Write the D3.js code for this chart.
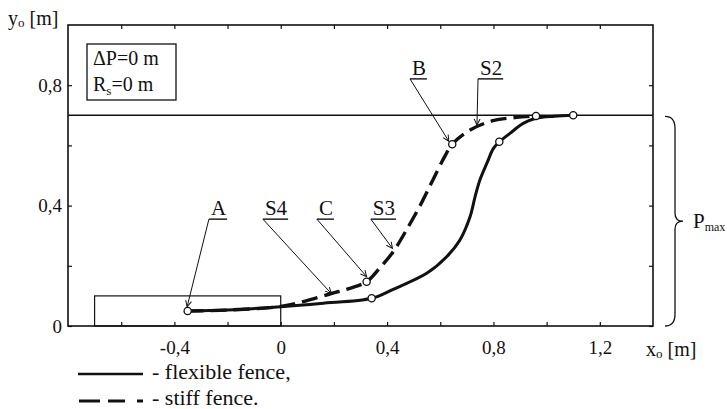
<!DOCTYPE html>
<html>
<head>
<meta charset="utf-8">
<title>Fence profiles</title>
<script src="https://cdn.jsdelivr.net/npm/d3@7"></script>
<style>
  body { margin: 0; background: #fff; }
  svg text { font-family: "Liberation Serif", "Times New Roman", Times, "DejaVu Serif", "Noto Serif", serif; fill: #111; }
</style>
</head>
<body>
<script>
  // data
  const flexX = [-0.35, -0.2, 0, 0.15, 0.342, 0.423, 0.549, 0.624, 0.674, 0.712, 0.731, 0.749, 0.775, 0.8, 0.822, 0.862, 0.912, 0.96, 1.03, 1.1];
  const flexY = [0.05, 0.053, 0.064, 0.075, 0.092, 0.122, 0.175, 0.23, 0.286, 0.363, 0.43, 0.485, 0.54, 0.59, 0.612, 0.64, 0.673, 0.69, 0.697, 0.7];
  const stiffX = [-0.35, -0.2, 0, 0.085, 0.19, 0.26, 0.323, 0.37, 0.423, 0.48, 0.53, 0.575, 0.618, 0.645, 0.712, 0.798, 0.887, 0.96];
  const stiffY = [0.05, 0.053, 0.065, 0.081, 0.108, 0.125, 0.147, 0.19, 0.247, 0.33, 0.41, 0.49, 0.565, 0.604, 0.651, 0.682, 0.693, 0.698];
  const markX = [-0.35, 0.342, 0.323, 0.645, 0.822, 0.96, 1.1];
  const markY = [0.05, 0.092, 0.147, 0.604, 0.612, 0.698, 0.7];
  const pMax = 0.7;
  const zoneX = [-0.7, 0];
  const zoneY = [0, 0.1];

  const xTicks = [-0.6, -0.4, -0.2, 0, 0.2, 0.4, 0.6, 0.8, 1, 1.2];
  const xLabels = [-0.4, 0, 0.4, 0.8, 1.2];
  const yTicks = [0, 0.2, 0.4, 0.6, 0.8];
  const yLabels = [0, 0.4, 0.8];

  // annotation labels: text, label x, label y, target x, target y
  const notes = [
    ['A', -0.27, 0.355, -0.352, 0.064],
    ['S4', -0.067, 0.355, 0.19, 0.108],
    ['C', 0.136, 0.355, 0.323, 0.164],
    ['S3', 0.339, 0.355, 0.42, 0.258],
    ['B', 0.486, 0.821, 0.632, 0.614],
    ['S2', 0.742, 0.821, 0.738, 0.668]
  ];

  const width = 727, height = 409;
  const mLeft = 68, mTop = 25, pw = 585, ph = 301;
  const serif = '"Liberation Serif", "Times New Roman", Times, "DejaVu Serif", serif';

  const svg = d3.select('body').append('svg')
    .attr('width', width)
    .attr('height', height)
    .attr('font-family', serif);

  const x = d3.scaleLinear().domain([-0.8, 1.4]).range([mLeft, mLeft + pw]);
  const y = d3.scaleLinear().domain([0, 1]).range([mTop + ph, mTop]);

  function fmt(d) {
    return d === 0 ? '0' : String(d).replace('.', ',');
  }

  svg.append('defs').append('marker')
    .attr('id', 'arr')
    .attr('markerUnits', 'userSpaceOnUse')
    .attr('viewBox', '-8 -5 10 10')
    .attr('markerWidth', 10).attr('markerHeight', 10)
    .attr('refX', 0).attr('refY', 0)
    .attr('orient', 'auto')
    .append('path')
    .attr('d', 'M-6,-3L0,0L-6,3')
    .attr('fill', 'none').attr('stroke', '#111').attr('stroke-width', 1);

  // axes (inner ticks)
  svg.append('g').attr('transform', `translate(0,${mTop + ph})`)
    .call(d3.axisBottom(x).tickValues(xTicks).tickSize(-4).tickPadding(15)
      .tickFormat(d => xLabels.includes(d) ? fmt(d) : ''));
  svg.append('g').attr('transform', `translate(0,${mTop})`)
    .call(d3.axisTop(x).tickValues(xTicks).tickSize(-4).tickFormat(''));
  svg.append('g').attr('transform', `translate(${mLeft},0)`)
    .call(d3.axisLeft(y).tickValues(yTicks).tickSize(-4).tickPadding(6)
      .tickFormat(d => yLabels.includes(d) ? fmt(d) : ''));
  svg.append('g').attr('transform', `translate(${mLeft + pw},0)`)
    .call(d3.axisRight(y).tickValues(yTicks).tickSize(-4).tickFormat(''));
  svg.selectAll('.domain').remove();
  svg.selectAll('g[font-family]').attr('font-family', serif).attr('font-size', 19);
  svg.selectAll('.tick line').attr('stroke', '#111').attr('stroke-width', 1.2);
  svg.selectAll('.tick text').attr('fill', '#111');

  // frame
  svg.append('rect')
    .attr('x', x(-0.8)).attr('y', y(1))
    .attr('width', x(1.4) - x(-0.8)).attr('height', y(0) - y(1))
    .attr('fill', 'none').attr('stroke', '#111').attr('stroke-width', 1.6);

  // Pmax line
  svg.append('line')
    .attr('x1', x(-0.8)).attr('x2', x(1.4))
    .attr('y1', y(pMax)).attr('y2', y(pMax))
    .attr('stroke', '#111').attr('stroke-width', 1.5);

  // zone rectangle
  svg.append('rect')
    .attr('x', x(zoneX[0])).attr('y', y(zoneY[1]))
    .attr('width', x(zoneX[1]) - x(zoneX[0])).attr('height', y(zoneY[0]) - y(zoneY[1]))
    .attr('fill', 'none').attr('stroke', '#111').attr('stroke-width', 1.2);

  // curves
  const line = d3.line().x(d => x(d[0])).y(d => y(d[1])).curve(d3.curveCatmullRom.alpha(0.5));
  svg.append('path')
    .datum(d3.zip(flexX, flexY))
    .attr('d', line)
    .attr('fill', 'none').attr('stroke', '#111').attr('stroke-width', 3);
  svg.append('path')
    .datum(d3.zip(stiffX, stiffY))
    .attr('d', line)
    .attr('fill', 'none').attr('stroke', '#111').attr('stroke-width', 3.4)
    .attr('stroke-dasharray', '16,7');

  // leaders and labels
  notes.forEach(n => {
    let t = svg.append('text')
      .attr('x', x(n[1]) + 2).attr('y', y(n[2]) - 4)
      .attr('font-size', 21)
      .text(n[0]);
    let w = t.node().getComputedTextLength();
    svg.append('line')
      .attr('x1', x(n[1])).attr('x2', x(n[1]) + w + 3)
      .attr('y1', y(n[2])).attr('y2', y(n[2]))
      .attr('stroke', '#111').attr('stroke-width', 1.4);
    svg.append('line')
      .attr('x1', x(n[1])).attr('y1', y(n[2]))
      .attr('x2', x(n[3])).attr('y2', y(n[4]))
      .attr('stroke', '#111').attr('stroke-width', 1)
      .attr('marker-end', 'url(#arr)');
  });

  // markers
  svg.selectAll('circle.m')
    .data(d3.zip(markX, markY))
    .enter().append('circle')
    .attr('cx', d => x(d[0])).attr('cy', d => y(d[1]))
    .attr('r', 3.6)
    .attr('fill', '#fff').attr('stroke', '#111').attr('stroke-width', 1.3);

  // info box
  svg.append('rect')
    .attr('x', 87).attr('y', 44).attr('width', 89).attr('height', 56)
    .attr('fill', '#fff').attr('stroke', '#111').attr('stroke-width', 1.3);
  svg.append('text').attr('x', 93).attr('y', 65).attr('font-size', 20).text('ΔP=0 m');
  let rs = svg.append('text').attr('x', 93).attr('y', 91).attr('font-size', 20);
  rs.append('tspan').text('R');
  rs.append('tspan').attr('dy', 4).attr('font-size', 13).text('s');
  rs.append('tspan').attr('dy', -4).text('=0 m');

  // axis titles
  let yt = svg.append('text').attr('x', 8).attr('y', 25).attr('font-size', 20);
  yt.append('tspan').text('y');
  yt.append('tspan').attr('dy', 2).attr('font-size', 13).text('o');
  yt.append('tspan').attr('dy', -2).text(' [m]');
  let xt = svg.append('text').attr('x', 646).attr('y', 356).attr('font-size', 20);
  xt.append('tspan').text('x');
  xt.append('tspan').attr('dy', 2).attr('font-size', 13).text('o');
  xt.append('tspan').attr('dy', -2).text(' [m]');

  // brace for Pmax
  let bx = x(1.4) + 12, b0 = y(pMax) + 1, b1 = y(0), bm = (b0 + b1) / 2;
  svg.append('path')
    .attr('d', `M${bx},${b0} Q${bx + 10},${b0} ${bx + 10},${b0 + 12} L${bx + 10},${bm - 8}
      Q${bx + 10},${bm} ${bx + 18},${bm} Q${bx + 10},${bm} ${bx + 10},${bm + 8}
      L${bx + 10},${b1 - 12} Q${bx + 10},${b1} ${bx},${b1}`)
    .attr('fill', 'none').attr('stroke', '#111').attr('stroke-width', 1.3);
  let pm = svg.append('text').attr('x', bx + 28).attr('y', bm + 7).attr('font-size', 21);
  pm.append('tspan').text('P');
  pm.append('tspan').attr('dy', 3).attr('font-size', 12).text('max');

  // legend
  svg.append('line')
    .attr('x1', 78).attr('x2', 143).attr('y1', 374).attr('y2', 374)
    .attr('stroke', '#111').attr('stroke-width', 2.5);
  svg.append('text').attr('x', 152).attr('y', 379).attr('font-size', 22).text('- flexible fence,');
  svg.append('line')
    .attr('x1', 79).attr('x2', 143).attr('y1', 401).attr('y2', 401)
    .attr('stroke', '#111').attr('stroke-width', 3)
    .attr('stroke-dasharray', '21,8,17,12,6,100');
  svg.append('text').attr('x', 152).attr('y', 405).attr('font-size', 22).text('- stiff fence.');
</script>
</body>
</html>
